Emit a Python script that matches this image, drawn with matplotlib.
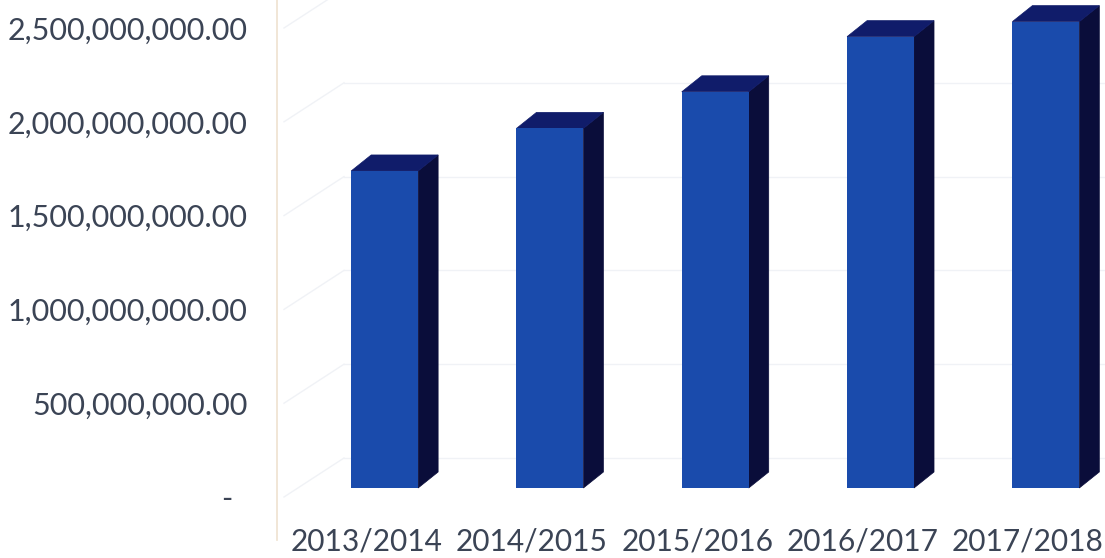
import matplotlib.pyplot as plt
from matplotlib.patches import Polygon
from matplotlib.lines import Line2D
from matplotlib.transforms import Affine2D

# yearly totals
years = ["2013/2014", "2014/2015", "2015/2016", "2016/2017", "2017/2018"]
totals = [1.690e9, 1.917e9, 2.112e9, 2.406e9, 2.486e9]
y_ticks = [0, 500e6, 1000e6, 1500e6, 2000e6, 2500e6]

W, H = 1105, 558
FRONT = "#1a4bac"
TOP = "#101c6a"
SIDE = "#0a0d3a"
GRID = "#f0f2f6"
TEXT = "#3b4455"

plt.rcParams["font.family"] = ["Lato", "DejaVu Sans"]

fig = plt.figure(figsize=(W / 100, H / 100), dpi=100)
ax_left, ax_bottom, ax_h = 284, 61, 469
ax = fig.add_axes([ax_left / W, ax_bottom / H, (W - ax_left) / W, ax_h / H])

slot = 165.3  # pixels per category
ymax = 2.5e9
ax.set_xlim(-0.5, -0.5 + (W - ax_left) / slot)
ax.set_ylim(0, ymax)

# pixel -> data helpers for the oblique depth offsets
def px_x(p):
    return p / slot

def px_y(p):
    return p * ymax / ax_h

# back wall and side wall gridlines
wall_dx, wall_dy = px_x(60), px_y(39)
x0 = -0.5
x1 = ax.get_xlim()[1]
for v in y_ticks:
    ax.add_line(Line2D([x0 + wall_dx, x1], [v + wall_dy] * 2, color=GRID,
                       lw=1, zorder=1, clip_on=False))
    ax.add_line(Line2D([x0, x0 + wall_dx], [v, v + wall_dy], color=GRID,
                       lw=1, zorder=1, clip_on=False))

# bars, set back from the floor front edge
bar_w = 0.405
off_x, off_y = px_x(18), px_y(9)
dep_x, dep_y = px_x(20), px_y(16)
xs = [i + off_x for i in range(len(years))]
ax.bar(xs, totals, width=bar_w, bottom=off_y, color=FRONT, lw=0,
       zorder=3, clip_on=False)
for xc, v in zip(xs, totals):
    xl, xr = xc - bar_w / 2, xc + bar_w / 2
    top = off_y + v
    side = [(xr, off_y), (xr + dep_x, off_y + dep_y),
            (xr + dep_x, top + dep_y), (xr, top)]
    lid = [(xl, top), (xl + dep_x, top + dep_y),
           (xr + dep_x, top + dep_y), (xr, top)]
    ax.add_patch(Polygon(side, closed=True, fc=SIDE, ec=SIDE, lw=0.5,
                         zorder=2, clip_on=False))
    ax.add_patch(Polygon(lid, closed=True, fc=TOP, ec=TOP, lw=0.5,
                         zorder=2, clip_on=False))

# axis labels
ylabels = ["-" if v == 0 else "{:,.2f}".format(v) for v in y_ticks]
ax.set_yticks(y_ticks, ylabels)
ax.set_xticks(range(len(years)), years)
ax.tick_params(axis="y", length=0, pad=26, labelsize=22, labelcolor=TEXT)
ax.tick_params(axis="x", length=0, pad=22, labelsize=21.5, labelcolor=TEXT)
zero_lbl = ax.get_yticklabels()[0]
zero_lbl.set_transform(zero_lbl.get_transform() + Affine2D().translate(-16, 0))

for s in ax.spines.values():
    s.set_visible(False)
ax.patch.set_alpha(0)

# plot area border
fig.add_artist(Line2D([277 / W] * 2, [18 / H, 1], color="#efe2cf", lw=1.2))

fig.savefig("out.png", dpi=100, facecolor="white")
